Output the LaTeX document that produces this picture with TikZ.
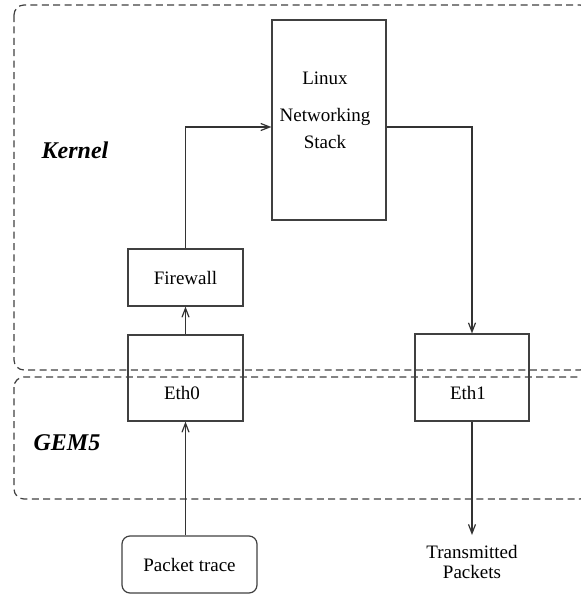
\documentclass[tikz,border=0pt]{standalone}
\usepackage{fontspec}
\setmainfont{Liberation Serif}
\usepackage{tikz}
\usetikzlibrary{positioning, arrows.meta}

\tikzset{
  box/.style={draw=black!75, line width=0.6pt, inner sep=0pt, font=\fontsize{9.5}{11}\selectfont},
  region/.style={draw=black!75, line width=0.6pt, dash pattern=on 3.5pt off 2.2pt, rounded corners=5pt},
  flow/.style={draw=black!80, line width=0.6pt, -{Straight Barb[length=4.5pt,width=3.5pt]}},
  tag/.style={font=\fontsize{12}{14}\selectfont\bfseries\itshape},
  txt/.style={font=\fontsize{9.5}{10}\selectfont}
}

\begin{document}
\begin{tikzpicture}[x=0.5pt,y=-0.5pt]
\useasboundingbox (0,0) rectangle (581,595);
% the two layers
\draw[region] (14,5) rectangle (590,370);
\draw[region] (14,377) rectangle (590,499);
\node[tag] (kernel) at (75,150) {Kernel};
\node[tag] (gem) at (67,443) {GEM5};
% boxes
\node[box, minimum width=57pt, minimum height=100pt] (stack) at (329,120) {};
\node[txt, align=center, font=\fontsize{9.5}{13.5}\selectfont] (stacklbl) at (325,110) {Linux\\[5pt]Networking\\Stack};
\node[box, minimum width=57.5pt, minimum height=28.5pt] (firewall) at (185.5,277.5) {Firewall};
\node[box, minimum width=57.5pt, minimum height=43pt] (eth0) at (185.5,378) {};
\node[txt] (eth0lbl) at (182,393) {Eth0};
\node[box, minimum width=57pt, minimum height=43.5pt] (eth1) at (472,377.5) {};
\node[txt] (eth1lbl) at (468,393) {Eth1};
\node[box, rounded corners=4pt, minimum width=67.5pt, minimum height=28.5pt] (trace) at (189.5,564.5) {Packet trace};
\node[txt, align=center, anchor=north, inner ysep=5pt] (sent) at (472,535) {Transmitted\\Packets};
% packet path
\draw[flow] (trace.north -| eth0.south) -- (eth0.south);
\draw[flow] (eth0) -- (firewall);
\draw[flow] (firewall.north) |- ([yshift=-3.5pt]stack.west);
\draw[flow] ([yshift=-3.5pt]stack.east) -| (eth1.north);
\draw[flow] (eth1) -- (sent);
\end{tikzpicture}
\end{document}
